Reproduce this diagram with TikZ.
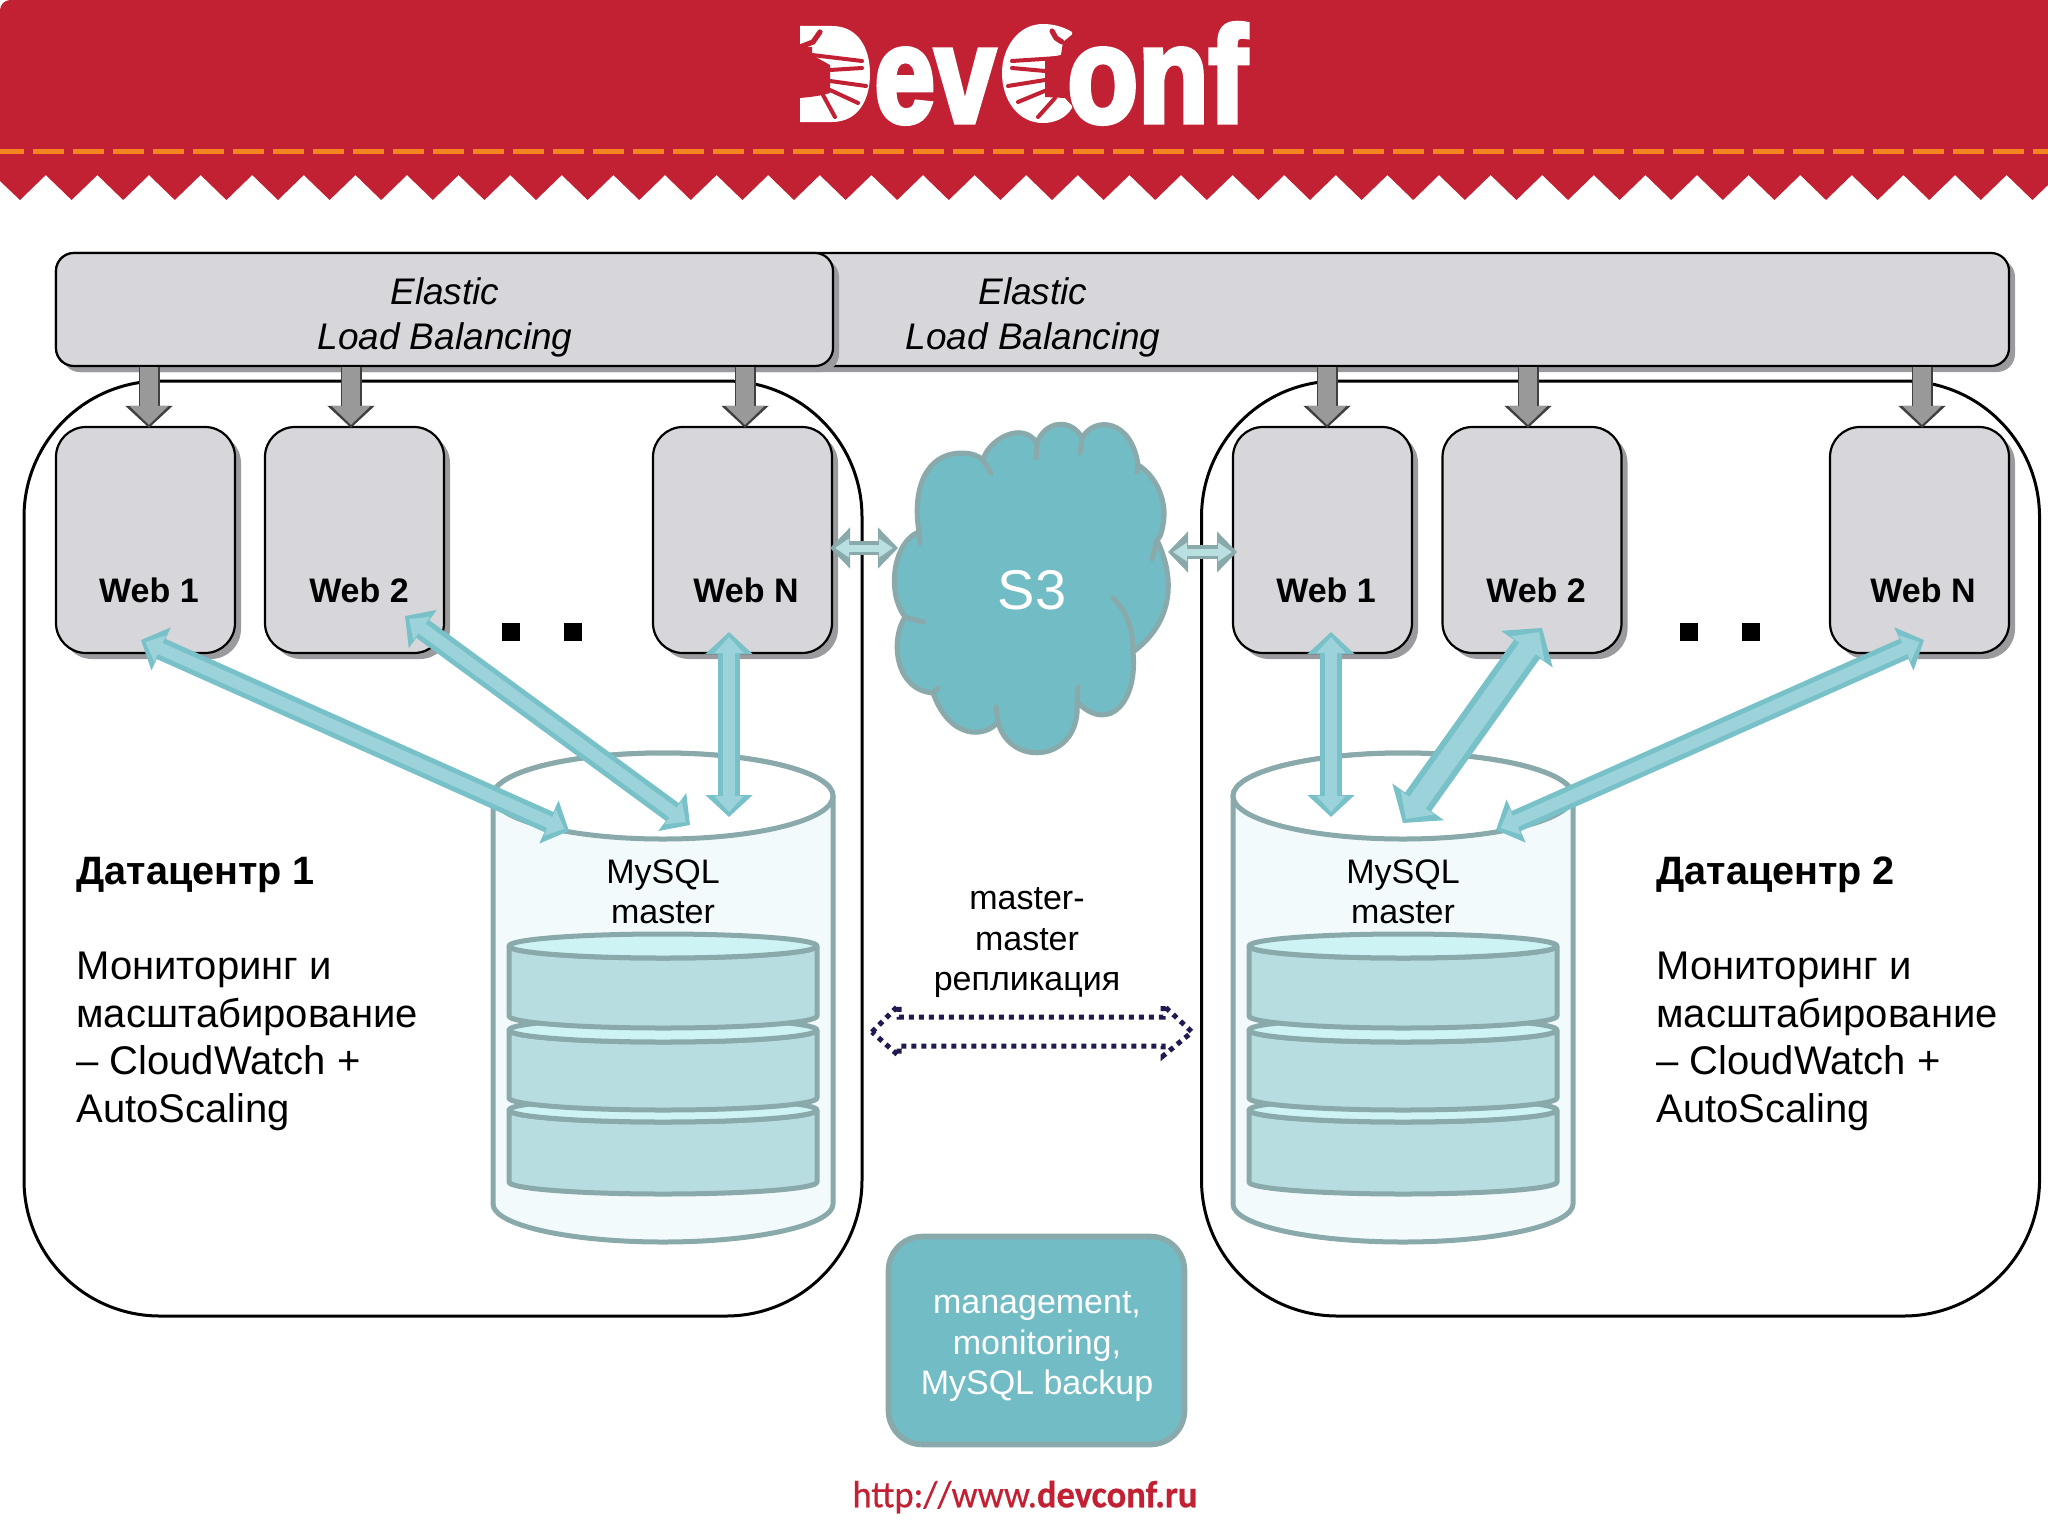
\documentclass[tikz,border=0pt]{standalone}
\usepackage{fontspec}
\setmainfont{Liberation Sans}
\newfontfamily\logofont[FakeBold=4]{Liberation Sans Bold}
\newfontfamily\urlfont[FakeBold=.5]{Carlito}
\newfontfamily\urlbold[FakeBold=.5]{Carlito Bold}
\usetikzlibrary{shadows,arrows.meta}
\definecolor{bannerred}{HTML}{C22033}
\definecolor{stitch}{HTML}{F5861F}
\definecolor{boxgrey}{HTML}{D7D6DA}
\definecolor{boxshade}{HTML}{9B9A9E}
\definecolor{tealfill}{HTML}{72BCC5}
\definecolor{tealline}{HTML}{8AA9AB}
\definecolor{smallfill}{HTML}{B9DFE0}
\definecolor{arrline}{HTML}{78C1C9}
\definecolor{arrfill}{HTML}{9CD2DA}
\definecolor{dbbody}{HTML}{F2FAFC}
\definecolor{diskfill}{HTML}{B7DDE0}
\definecolor{disktop}{HTML}{CDF3F4}
\definecolor{replline}{HTML}{1F1A4F}
\tikzset{
  dcbox/.style={rectangle, draw=black, line width=1.5pt, rounded corners=68pt, minimum width=419pt, minimum height=467.5pt},
  lbbox/.style={rectangle, draw=black, line width=1.1pt, fill=boxgrey, rounded corners=9pt, minimum height=56.5pt,
    drop shadow={shadow xshift=3pt, shadow yshift=-3pt, fill=boxshade, opacity=1}},
  lbtext/.style={align=center, font=\fontsize{18.5}{22.5}\selectfont\itshape, inner sep=0pt},
  webbox/.style={rectangle, draw=black, line width=1.1pt, fill=boxgrey, rounded corners=15pt, minimum width=89.5pt, minimum height=113pt,
    drop shadow={shadow xshift=3pt, shadow yshift=-3pt, fill=boxshade, opacity=1}},
  weblabel/.style={font=\fontsize{17}{20}\selectfont\bfseries, inner sep=0pt},
  gap/.style={rectangle, fill=black, minimum size=9pt, inner sep=0pt},
  lbarrow/.style={preaction={draw=black!75, line width=10.5pt, shorten >=-1pt, -{Triangle[length=11pt,width=23pt]}},
    draw=black!40, line width=9pt, shorten >=.5pt, -{Triangle[length=9.5pt,width=19pt]}},
  twoway/.style n args={7}{preaction={draw=#1, line width=#3, shorten <=0pt, shorten >=0pt,
      {Triangle[length=#7,width=#5]}-{Triangle[length=#7,width=#5]}},
    draw=#2, line width=#4, shorten <=2.5pt, shorten >=2.5pt,
    {Triangle[length=#7-3pt,width=#6]}-{Triangle[length=#7-3pt,width=#6]}},
  dbarrow/.style={twoway={arrline}{arrfill}{11pt}{6pt}{23pt}{14pt}{11pt}},
  widearrow/.style={twoway={arrline}{arrfill}{16pt}{10pt}{31pt}{20pt}{13pt}},
  s3arrow/.style={twoway={tealline}{smallfill}{7pt}{3.5pt}{20pt}{9pt}{10pt}},
  dbline/.style={draw=tealline, line width=2.5pt, line join=round},
  dblabel/.style={font=\fontsize{17}{20.25}\selectfont, align=center, inner sep=0pt},
  dctitle/.style={font=\fontsize{19.8}{24}\selectfont\bfseries, anchor=west, inner sep=0pt},
  dctext/.style={font=\fontsize{20}{23.8}\selectfont, align=left, anchor=west, inner sep=0pt},
  cloudline/.style={draw=tealline, line width=2.5pt, line cap=round, line join=round},
  logotext/.style={font=\fontsize{68}{68}\logofont, text=white, inner sep=0pt, anchor=base west},
  fingerline/.style={draw=bannerred, line width=2pt, line cap=round},
}
% one cylinder with its three disks
\newcommand{\dbstack}[1]{
  \begin{scope}[shift={(#1,0)}]
    \path[dbline, fill=dbbody] (-170,796) -- (-170,1204) arc[start angle=180, end angle=360, x radius=85pt, y radius=19pt]
      -- (170,796) arc[start angle=0, end angle=180, x radius=85pt, y radius=21.5pt] -- cycle;
    \path[dbline, fill=white] (0,796) ellipse[x radius=85pt, y radius=21.5pt];
    \foreach \y/\h in {1110/72, 1030/68, 946/70} {
      \path[dbline, fill=diskfill] (-154,\y) -- ({-154},{\y+\h}) arc[start angle=180, end angle=360, x radius=77pt, y radius=6pt]
        -- (154,\y) arc[start angle=0, end angle=-180, x radius=77pt, y radius=6pt] -- cycle;
      \path[dbline, fill=disktop] (0,\y) ellipse[x radius=77pt, y radius=6pt];
    }
  \end{scope}
}

\begin{document}
\begin{tikzpicture}[x=0.5pt, y=-0.5pt]
  \useasboundingbox (0,0) rectangle (2048,1536);

  % ----- Banner -----
  \fill[bannerred] (12,0) -- (2048,0) -- (2048,185)
    -- (2032.4,200)
    \foreach \k in {38,37,...,0} { -- ({45.8+51.6*\k},175) -- ({20+51.6*\k},200) }
    -- (0,181) -- (0,12) .. controls (0,4) and (4,0) .. (12,0) -- cycle;
  \draw[stitch, line width=2.5pt, dash pattern=on 15.5pt off 4.5pt, dash phase=3.5pt] (0,151) -- (2048,151);

  % ----- Logo -----
  \fill[white] (800,26) -- (832,26) .. controls (858,26) and (870,48) .. (870,74)
    .. controls (870,100) and (858,122) .. (832,122) -- (800,122) -- cycle;
  \fill[bannerred] (800,47) -- (812,47) -- (812,55) -- (830,65) -- (830,93) -- (823,95) -- (810,97) -- (800,98) -- cycle;
  \draw[fingerline, line width=2.6pt] (800,47) -- (813,42) -- (820,32);
  \draw[fingerline] (812,55) -- (862,61);
  \draw[fingerline] (830,70) -- (862,68);
  \draw[fingerline] (830,81) -- (866,86);
  \draw[fingerline] (830,90) -- (858,103);
  \draw[fingerline] (823,95) -- (835,117);
  \node[logotext] (logoev) at (874,122) {\scalebox{.8}[1]{ev}};
  \fill[white] (1072,32) .. controls (1062,26) and (1052,24) .. (1043,24) .. controls (1018,24) and (1002,48) .. (1002,73)
    .. controls (1002,100) and (1018,123) .. (1043,123) .. controls (1055,123) and (1066,118) .. (1072,108) -- cycle;
  \fill[bannerred] (1074,33) -- (1063,42) -- (1061,55) -- (1045,58) -- (1045,97) -- (1065,98) -- (1074,108) -- cycle;
  \draw[fingerline, line width=2.6pt] (1052,31) -- (1056,38) -- (1062,42);
  \draw[fingerline] (1058,58) -- (1012,61);
  \draw[fingerline] (1045,71) -- (1012,68);
  \draw[fingerline] (1045,80) -- (1008,86);
  \draw[fingerline] (1047,90) -- (1018,102);
  \draw[fingerline] (1055,98) -- (1038,117);
  \node[logotext] (logoonf) at (1067,122) {\scalebox{.85}[1]{onf}};

  % ----- Datacenters -----
  \node[dcbox] (dca) at (443,848.5) {};
  \node[dcbox] (dcb) at (1620.5,848.5) {};

  % ----- Load balancers -----
  \node[lbbox, minimum width=976.5pt] (lbback) at (1032.5,309.5) {};
  \node[lbbox, minimum width=388.5pt] (lbfront) at (444.5,309.5) {};
  \node[lbtext] (lbbacktext) at (1033,317) {Elastic\\Load Balancing};
  \node[lbtext] (lbfronttext) at (445,317) {Elastic\\Load Balancing};

  % ----- Web servers -----
  \foreach \w/\x in {weba/145.5, webb/354.5, webn/742.5, webc/1322.5, webd/1532, webe/1919.5} {
    \node[webbox] (\w) at (\x,540) {};
  }
  \foreach \w/\x/\t in {weba/149/Web 1, webb/359/Web 2, webn/746/Web N, webc/1326/Web 1, webd/1536/Web 2, webe/1923/Web N} {
    \node[weblabel] (\w label) at (\x,590) {\t};
  }
  \foreach \w/\s in {weba/1.75pt, webb/-1.75pt, webn/1.25pt, webc/2.25pt, webd/-2pt, webe/1.25pt} {
    \draw[lbarrow] ([xshift=\s]\w.north |- lbback.south) -- ([xshift=\s]\w.north);
  }
  \node[gap] (gapa) at (511,632) {};
  \node[gap] (gapb) at (573,632) {};
  \node[gap] (gapc) at (1689,632) {};
  \node[gap] (gapd) at (1751,632) {};

  % ----- Databases -----
  \dbstack{663}
  \dbstack{1403}
  \node[dblabel] (dbalabel) at (663,892) {MySQL\\master};
  \node[dblabel] (dbblabel) at (1403,892) {MySQL\\master};

  % ----- S3 cloud -----
  \path[fill=tealfill, cloudline] (919,532) .. controls (912,490) and (925,453) .. (962,453)
    .. controls (970,453) and (978,455) .. (983,460) .. controls (988,440) and (1022,420) .. (1037,443)
    .. controls (1045,420) and (1072,418) .. (1082,438) .. controls (1095,415) and (1132,420) .. (1138,465)
    .. controls (1155,475) and (1168,500) .. (1163,525) .. controls (1162,532) and (1160,538) .. (1157,540)
    .. controls (1174,575) and (1176,620) .. (1133,652) .. controls (1138,700) and (1110,735) .. (1077,702)
    .. controls (1082,762) and (1010,769) .. (998,722) .. controls (985,738) and (950,740) .. (933,693)
    .. controls (895,690) and (890,640) .. (905,617) .. controls (885,590) and (895,540) .. (919,532) -- cycle;
  \draw[cloudline] (983,460) -- (991,473);
  \draw[cloudline] (1037,443) -- (1036,458);
  \draw[cloudline] (1082,438) -- (1080,453);
  \draw[cloudline] (1138,465) -- (1137,472);
  \draw[cloudline] (1157,540) -- (1152,559);
  \draw[cloudline] (1113,598) .. controls (1125,610) and (1133,625) .. (1133,652);
  \draw[cloudline] (1077,702) -- (1078,687);
  \draw[cloudline] (998,722) -- (996,707);
  \draw[cloudline] (933,693) -- (938,688);
  \draw[cloudline] (905,617) -- (923,622);
  \draw[cloudline] (919,532) -- (920,543);
  \node[font=\fontsize{28}{30}\selectfont, text=white, inner sep=0pt] (s3) at (1032,590) {S3};

  % ----- Arrows -----
  \coordinate (weba low) at (141,640);
  \coordinate (webb low) at (405,616);
  \coordinate (webn low) at (729,632);
  \coordinate (webc low) at (1331,632);
  \coordinate (webd low) at (1542,628);
  \coordinate (webe low) at (1924,640);
  \coordinate (dba1) at (569,831);
  \coordinate (dba2) at (690,825);
  \coordinate (dba3) at (729,817);
  \coordinate (dbb1) at (1331,817);
  \coordinate (dbb2) at (1403,823);
  \coordinate (dbb3) at (1496,830);
  \draw[dbarrow] (weba low) -- (dba1);
  \draw[dbarrow] (webb low) -- (dba2);
  \draw[dbarrow] (webn low) -- (dba3);
  \draw[dbarrow] (webc low) -- (dbb1);
  \draw[widearrow] (webd low) -- (dbb2);
  \draw[dbarrow] (webe low) -- (dbb3);
  \coordinate (webn side) at (830,548);
  \coordinate (s3 west) at (898,548);
  \coordinate (s3 east) at (1168,552);
  \coordinate (webc side) at (1237,552);
  \draw[s3arrow] (webn side) -- (s3 west);
  \draw[s3arrow] (s3 east) -- (webc side);

  % ----- Replication -----
  \node[dblabel] (repl) at (1027,943) {master-\\master\\репликация};
  \draw[replline, line width=2.5pt, dash pattern=on 2.5pt off 2.5pt] (872,1032) -- (899,1005) -- (899,1017) -- (1163,1017)
    -- (1163,1005) -- (1192,1032) -- (1163,1056) -- (1163,1046) -- (899,1046) -- (899,1056) -- cycle;

  % ----- Datacenter texts -----
  \node[dctitle] (titlea) at (76,875) {Датацентр 1};
  \node[dctext] (texta) at (76,1041.5) {Мониторинг и\\масштабирование\\– CloudWatch +\\AutoScaling};
  \node[dctitle] (titleb) at (1656,875) {Датацентр 2};
  \node[dctext] (textb) at (1656,1041.5) {Мониторинг и\\масштабирование\\– CloudWatch +\\AutoScaling};

  % ----- Management box and address -----
  \node[rectangle, draw=tealline, line width=2.8pt, fill=tealfill, rounded corners=17pt, text=white,
    minimum width=148pt, minimum height=104pt, align=center, font=\fontsize{17}{20.25}\selectfont, inner sep=0pt] (mgmt) at (1036.5,1340.5)
    {};
  \node[dblabel, text=white] (mgmttext) at (1037,1347) {management,\\monitoring,\\MySQL backup};
  \node[inner sep=0pt, text=bannerred, font=\fontsize{19}{22}\urlfont] (url) at (1025,1497) {\scalebox{.96}[1]{http://www.{\urlbold devconf.ru}}};
\end{tikzpicture}
\end{document}
